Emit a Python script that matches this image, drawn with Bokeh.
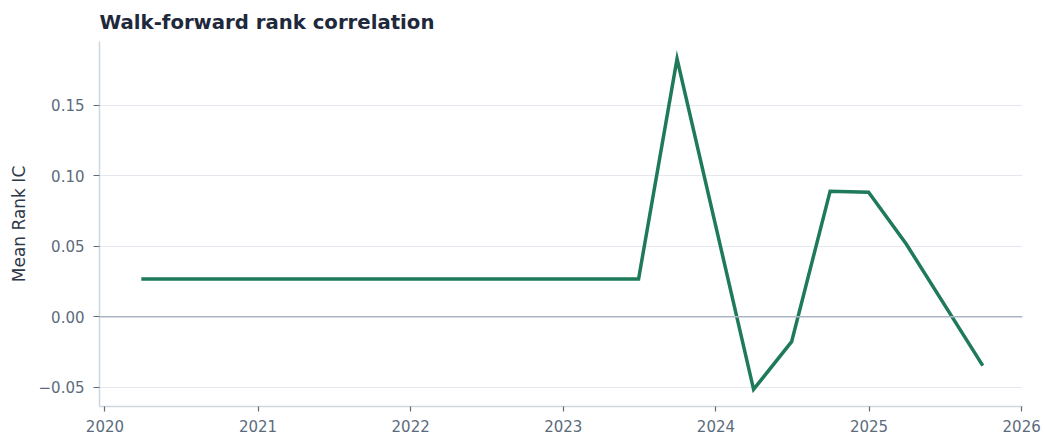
from datetime import datetime
from bokeh.plotting import figure
from bokeh.models import (Range1d, FixedTicker, DatetimeTickFormatter, Span,
                          CustomJSTickFormatter, ColumnDataSource)
from bokeh.embed import file_html
from bokeh.resources import INLINE

# ---- data ----
dates = ["2020-03-28", "2023-06-30", "2023-09-30", "2024-03-31", "2024-06-30",
         "2024-09-30", "2024-12-31", "2025-03-31", "2025-09-30"]
rank_ic = [0.0268, 0.0268, 0.183, -0.0516, -0.0177, 0.0891, 0.0884, 0.0516, -0.0347]
year_ticks = [2020, 2021, 2022, 2023, 2024, 2025, 2026]
y_ticks = [-0.05, 0.0, 0.05, 0.10, 0.15]

x = [datetime.strptime(d, "%Y-%m-%d") for d in dates]
src = ColumnDataSource(dict(x=x, y=rank_ic))

def ms(dt):
    return (dt - datetime(1970, 1, 1)).total_seconds() * 1000.0

FONT = "DejaVu Sans"
TICK_COLOR = "#5b6b7c"

p = figure(width=1045, height=442, x_axis_type="datetime",
           output_backend="svg", toolbar_location=None,
           title="Walk-forward rank correlation",
           x_range=Range1d(datetime(2019, 12, 19), datetime(2026, 1, 3)),
           y_range=Range1d(-0.0637, 0.1953),
           min_border_left=99, min_border_right=23, min_border_bottom=36, min_border_top=40)

p.title.text_font = FONT
p.title.text_font_size = "19.7px"
p.title.text_font_style = "bold"
p.title.text_color = "#1e293b"
p.title.standoff = 16

p.outline_line_color = None
p.background_fill_color = "white"
p.border_fill_color = "white"

p.xgrid.grid_line_color = None
p.ygrid.grid_line_color = "#e4e8ee"
p.ygrid.grid_line_width = 1.2

for ax in (p.xaxis[0], p.yaxis[0]):
    ax.axis_line_color = "#cdd5de"
    ax.axis_line_width = 1.5
    ax.major_tick_line_color = "#5b6b7c"
    ax.major_tick_line_width = 1.2
    ax.major_tick_out = 5
    ax.major_tick_in = 0
    ax.minor_tick_line_color = None
    ax.major_label_text_font = FONT
    ax.major_label_text_font_size = "15px"
    ax.major_label_text_color = TICK_COLOR

p.xaxis[0].ticker = FixedTicker(ticks=[ms(datetime(yy, 1, 1)) for yy in year_ticks])
p.xaxis[0].formatter = DatetimeTickFormatter(years="%Y", months="%Y", days="%Y")
p.xaxis[0].major_label_standoff = 8
p.xaxis[0].major_label_text_line_height = 1.0

p.yaxis[0].ticker = FixedTicker(ticks=y_ticks)
p.yaxis[0].formatter = CustomJSTickFormatter(code="""
    const s = Math.abs(tick).toFixed(2);
    return (tick < -1e-9 ? "\\u2212" : "") + s;
""")
p.yaxis[0].major_tick_out = 6
p.yaxis[0].major_label_standoff = 9
p.yaxis[0].axis_label = "Mean Rank IC"
p.yaxis[0].axis_label_standoff = 7
p.yaxis[0].axis_label_text_font = FONT
p.yaxis[0].axis_label_text_font_size = "17px"
p.yaxis[0].axis_label_text_font_style = "normal"
p.yaxis[0].axis_label_text_color = "#2d3748"

p.add_layout(Span(location=0, dimension="width", line_color="#a9b5c2", line_width=1.6))

p.line("x", "y", source=src, line_color="#1f7a5a", line_width=3.5,
       line_join="miter")

open("out.html", "w").write(file_html(p, INLINE))
